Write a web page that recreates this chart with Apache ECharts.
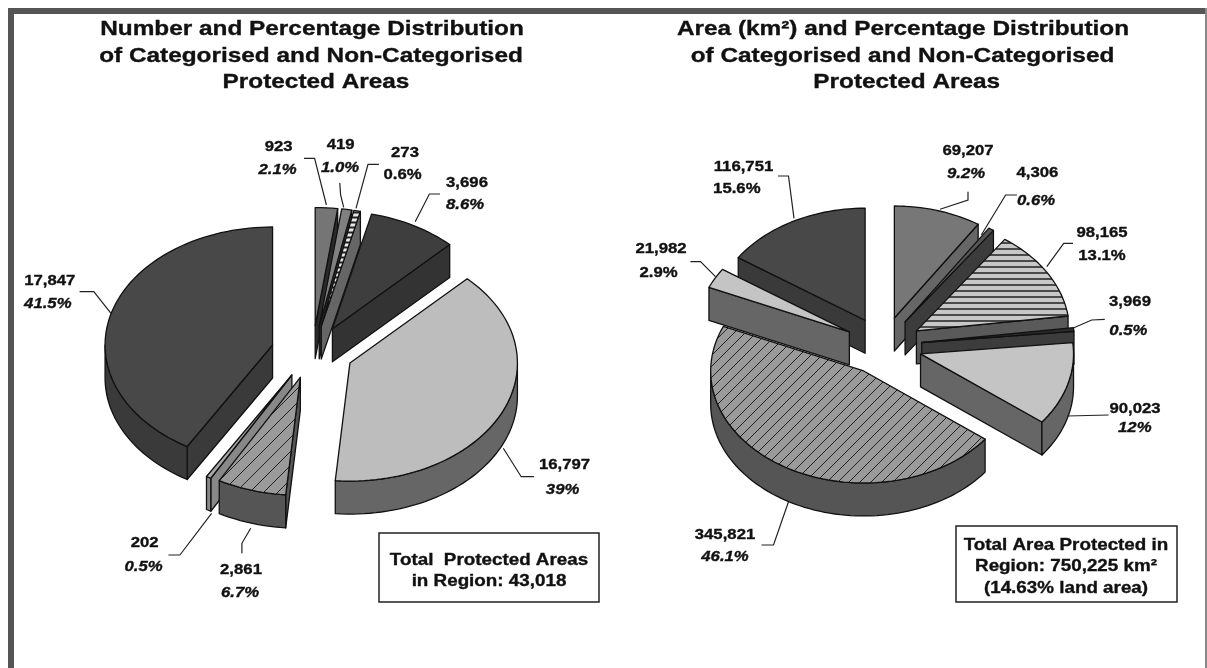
<!DOCTYPE html>
<html><head><meta charset="utf-8">
<style>html,body{margin:0;padding:0;background:#fff}#c{width:1207px;height:668px;filter:blur(0.45px)}</style>
<script src="https://cdn.jsdelivr.net/npm/echarts@6/dist/echarts.min.js"></script>
</head><body><div id="c"></div>
<script>
// ---- data ----
const titleLeft = ["Number and Percentage Distribution", "of Categorised and Non-Categorised", "Protected Areas"];
const titleRight = ["Area (km²) and Percentage Distribution", "of Categorised and Non-Categorised", "Protected Areas"];
const leftValues = [923, 419, 273, 3696, 16797, 2861, 202, 17847];
const leftPercents = ["2.1%", "1.0%", "0.6%", "8.6%", "39%", "6.7%", "0.5%", "41.5%"];
const leftItalic = [1, 1, 0, 1, 1, 1, 1, 1];
const rightValues = [69207, 4306, 98165, 3969, 90023, 345821, 21982, 116751];
const rightPercents = ["9.2%", "0.6%", "13.1%", "0.5%", "12%", "46.1%", "2.9%", "15.6%"];
const rightItalic = [1, 1, 0, 1, 1, 1, 0, 0];
const leftBoxText = ["Total  Protected Areas", "in Region: 43,018"];
const rightBoxText = ["Total Area Protected in", "Region: 750,225 km²", "(14.63% land area)"];

// ---- styles and layout ----
const FONT = '"Liberation Sans", Arial, sans-serif';
function hatch(kind, bg, line, gap, lw) {
  const c = document.createElement('canvas');
  c.width = c.height = gap;
  const g = c.getContext('2d');
  g.fillStyle = bg; g.fillRect(0, 0, gap, gap);
  g.strokeStyle = line; g.lineWidth = lw;
  g.beginPath();
  if (kind === 'h') { g.moveTo(0, gap / 2); g.lineTo(gap, gap / 2); }
  else { g.moveTo(-1, 1); g.lineTo(1, -1); g.moveTo(0, gap); g.lineTo(gap, 0); g.moveTo(gap - 1, gap + 1); g.lineTo(gap + 1, gap - 1); }
  g.stroke();
  return { image: c, repeat: 'repeat' };
}
const pies = [
  { values: leftValues, cx: 312.4, cy: 352, rx: 167.5, ry: 118, ex: 41.3, ey: 26.5, depth: 33,
    drawOrder: [0, 1, 2, 3, 4, 7, 6, 5],
    tops: ['#757575', '#808080', hatch('h', '#e8e8e8', '#222', 5, 2), '#3e3e3e', '#bdbdbd', hatch('d', '#9a9a9a', '#222', 14, 1), '#a8a8a8', '#484848'],
    walls: ['#2a2a2a', '#2a2a2a', '#666666', '#333333', '#666666', '#555555', '#888888', '#3a3a3a'] },
  { values: rightValues, cx: 883.3, cy: 345.9, rx: 153, ry: 112, ex: 38.7, ey: 29.1, depth: 33,
    drawOrder: [0, 1, 2, 3, 4, 7, 5, 6],
    tops: ['#777777', '#555555', hatch('h', '#c8c8c8', '#222', 6, 1.5), '#2a2a2a', '#c4c4c4', hatch('d', '#9a9a9a', '#222', 11, 1), '#c4c4c4', '#484848'],
    walls: ['#666666', '#3c3c3c', '#5a5a5a', '#3c3c3c', '#666666', '#555555', '#666666', '#3a3a3a'] }
];
const leftLabelPos = [[278.6,146.7,277.5,170],[340.6,145,340,168],[405,152.7,402.6,175],[467,182.7,465,205],[564.5,465,562.6,489.3],[241,570,240,593],[144.7,542.7,143.5,566.7],[49.8,280.7,47.8,304]];
const rightLabelPos = [[968,150.7,966,174],[1037.4,173,1036,200.7],[1102,233,1102,256],[1130,301.7,1128.4,331],[1135,409,1134.8,428],[725,535,725,556.7],[661,249,658.6,273],[743.5,166.7,736.8,189]];
const leftLeaders = [[[304,158.3],[314.6,158.3],[326.4,205]],[[339.8,183],[340.6,195],[343.7,207.3]],[[378.9,164.3],[368,164.3],[356,208.3]],[[440,194],[429.4,194],[415.2,221.7]],[[533.9,476.7],[521.2,476.7],[503.3,448.3]],[[241.9,553.3],[241.9,543.3],[250.7,528.3]],[[168.4,555],[179.9,555],[211.6,513.3]],[[79.6,291.7],[93.8,291.7],[111,313.3]]];
const rightLeaders = [[[968,191.7],[968,200],[940,209.3]],[[1016.9,195],[1005.6,195],[981.3,235]],[[1073,243.3],[1063.7,243.3],[1046.8,266.7]],[[1104.8,319.3],[1091.7,320],[1071,329]],[[1108.6,415],[1067.4,416]],[[761.5,545],[773.5,545],[788.5,501.7]],[[690.4,261.7],[700.5,261.7],[715.5,276.7]],[[778,176],[788.5,176],[794,218.3]]];

// ---- slice drawing ----
function sliceItem(pie, params, api) {
  const i = params.dataIndex, v = api.value(0);
  const total = pie.values.reduce((a, b) => a + b, 0);
  const before = pie.values.slice(0, i).reduce((a, b) => a + b, 0);
  const a1 = before / total * 360, a2 = (before + v) / total * 360, mid = (a1 + a2) / 2;
  const rad = d => d * Math.PI / 180;
  const ax = pie.cx + pie.ex * Math.sin(rad(mid)), ay = pie.cy - pie.ey * Math.cos(rad(mid));
  const pt = d => [ax + pie.rx * Math.sin(rad(d)), ay - pie.ry * Math.cos(rad(d))];
  const down = p => [p[0], p[1] + pie.depth];
  const arc = (s, e) => { const o = [], n = Math.max(1, Math.ceil((e - s) / 2)); for (let k = 0; k <= n; k++) o.push(pt(s + (e - s) * k / n)); return o; };
  const apex = [ax, ay], z = pie.drawOrder.indexOf(i) + 1;
  const poly = (points, fill) => ({ type: 'polygon', z2: z, shape: { points }, style: { fill, stroke: '#111', lineWidth: 1.3, lineJoin: 'round' } });
  const wall = pie.walls[i], ch = [];
  if (a2 < 180) ch.push(poly([apex, pt(a2), down(pt(a2)), down(apex)], wall));
  if (a1 > 180) ch.push(poly([apex, pt(a1), down(pt(a1)), down(apex)], wall));
  const fs = Math.max(a1, 90), fe = Math.min(a2, 270);
  if (fe > fs) { const t = arc(fs, fe); ch.push(poly(t.concat(t.map(down).reverse()), wall)); }
  ch.push(poly([apex].concat(arc(a1, a2)), pie.tops[i]));
  return { type: 'group', children: ch };
}

// ---- annotations ----
const gfx = [
  { type: 'rect', shape: { x: 8, y: 8, width: 1199, height: 6 }, style: { fill: '#555' }, silent: true },
  { type: 'rect', shape: { x: 8, y: 8, width: 6, height: 660 }, style: { fill: '#555' }, silent: true },
  { type: 'rect', shape: { x: 1205, y: 8, width: 2, height: 660 }, style: { fill: '#888' }, silent: true }
];
function txt(t, x, y, italic, size, stretch) {
  gfx.push({ type: 'text', x, y, z: 5, scaleX: stretch, silent: true,
    style: { text: t, fill: '#111', stroke: '#111', lineWidth: 0.35, font: (italic ? 'italic ' : '') + 'bold ' + size + 'px ' + FONT, textAlign: 'center', textVerticalAlign: 'middle' } });
}
function labels(values, pcts, italics, pos, leaders) {
  values.forEach((v, i) => {
    txt(v.toLocaleString('en-US'), pos[i][0], pos[i][1], false, 15.5, 1.08);
    txt(pcts[i], pos[i][2], pos[i][3], italics[i], 15.5, 1.08);
    gfx.push({ type: 'polyline', z: 4, shape: { points: leaders[i] }, style: { fill: 'none', stroke: '#222', lineWidth: 1.2 }, silent: true });
  });
}
labels(leftValues, leftPercents, leftItalic, leftLabelPos, leftLeaders);
labels(rightValues, rightPercents, rightItalic, rightLabelPos, rightLeaders);
[[titleLeft, [312, 311, 316]], [titleRight, [903, 902.5, 906.7]]].forEach(([lines, xs]) => {
  lines.forEach((t, i) => txt(t, xs[i], [29.5, 56, 82.5][i], false, 21, 1.16));
});
function box(x, y, w, h, lines, cx, ys) {
  gfx.push({ type: 'rect', z: 4, shape: { x, y, width: w, height: h }, style: { fill: '#fff', stroke: '#222', lineWidth: 1.5 }, silent: true });
  lines.forEach((t, i) => txt(t, cx, ys[i], false, 16.5, 1.14));
}
box(379, 533, 220, 69, leftBoxText, 489, [560, 581.7]);
box(956, 526, 221, 76, rightBoxText, 1066, [545, 566.7, 588]);

const chart = echarts.init(document.getElementById('c'), null, { renderer: 'canvas' });
chart.setOption({
  animation: false,
  backgroundColor: '#fff',
  series: pies.map(pie => ({
    type: 'custom', coordinateSystem: 'none', silent: true,
    data: pie.values.map(v => [v]),
    renderItem: (params, api) => sliceItem(pie, params, api)
  })),
  graphic: gfx
});
</script></body></html>
